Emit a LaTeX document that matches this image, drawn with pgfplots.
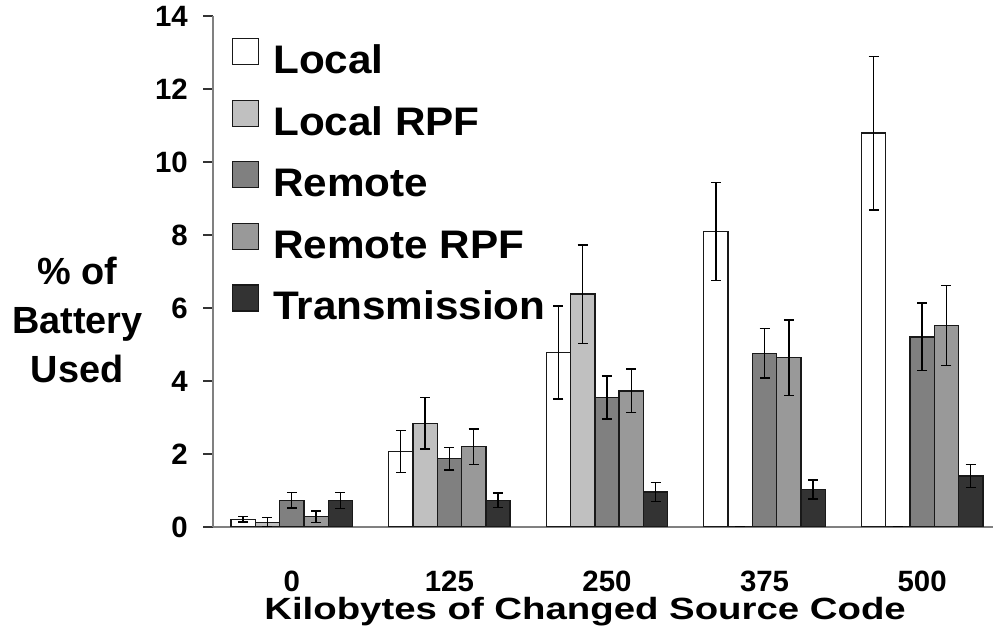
\documentclass[border=0pt]{standalone}
\usepackage{pgfplots}
\pgfplotsset{compat=1.18}
\usepackage{fontspec}
\setmainfont{Liberation Sans}
\usepackage{graphicx}
\definecolor{cLocal}{HTML}{FFFFFF}
\definecolor{cLocalRPF}{HTML}{C0C0C0}
\definecolor{cRemote}{HTML}{808080}
\definecolor{cRemoteRPF}{HTML}{999999}
\definecolor{cTrans}{HTML}{333333}
\definecolor{axgray}{HTML}{808080}
\newcommand{\legtxt}[1]{\scalebox{1.06}[1]{#1}}
\pgfplotsset{
  myerr/.style={
    error bars/y dir=both, error bars/y explicit,
    error bars/error bar style={line width=1.4bp, draw=black},
    error bars/error mark options={rotate=90, mark size=5bp, line width=1.4bp, draw=black}},
}
\begin{document}
\begin{tikzpicture}[x=1bp,y=1bp]
\useasboundingbox (0,0) rectangle (993,629);
\begin{axis}[
  at={(213bp,102bp)}, anchor=south west,
  scale only axis, width=780bp, height=511bp,
  xmin=-0.5, xmax=4.45, ymin=0, ymax=14,
  axis lines*=left,
  axis line style={draw=axgray, line width=2bp},
  tick align=outside,
  major tick length=10bp,
  ytick={0,2,...,14},
  ytick style={draw=black!80, line width=1.3bp},
  xtick={0,1,2,3,4},
  xticklabels={0,125,250,375,500},
  xtick style={draw=none},
  extra x ticks={-0.5,0.5,1.5,2.5,3.5},
  extra x tick labels={},
  extra x tick style={tick style={draw=black, line width=1.2bp}},
  /pgf/number format/assume math mode=true,
  ticklabel style={font=\bfseries\fontsize{29.5}{29.5}\selectfont},
  yticklabel style={anchor=east, inner sep=0pt, xshift=-15bp},
  xticklabel style={anchor=base, inner sep=0pt, yshift=-55bp},
  xlabel={\scalebox{1}[0.8]{Kilobytes of Changed Source Code}},
  xlabel style={font=\bfseries\fontsize{38.5}{40}\selectfont, at={(axis description cs:0.477,0)}, anchor=base, inner sep=0pt, yshift=-93bp},
  ylabel={\% of\\Battery\\Used},
  ylabel style={font=\bfseries\fontsize{38}{49}\selectfont, align=center, rotate=-90, at={(axis description cs:-0.174,0.405)}, anchor=center, inner sep=0pt},
  ybar=0pt, bar width=24.3bp,
  legend style={draw=none, fill=none, inner sep=0pt, outer sep=0pt, row sep=24.5bp, column sep=14bp,
    nodes={inner sep=0pt, anchor=base west}, font=\bfseries\fontsize{40}{40}\selectfont,
    at={(axis description cs:0.0244,0.957)}, anchor=north west},
  legend image code/.code={\draw[#1, line width=1.2bp] (0bp,9bp) rectangle (26bp,35bp);},
]
\addplot[fill=cLocal, draw=black!90, line width=1.4bp, myerr] coordinates {
 (0,0.21) +- (0,0.07)
 (1,2.07) +- (0,0.58)
 (2,4.78) +- (0,1.27)
 (3,8.10) +- (0,1.34)
 (4,10.79) +- (0,2.10)
};
\addplot[fill=cLocalRPF, draw=black!90, line width=1.4bp, myerr] coordinates {
 (0,0.13) +- (0,0.13)
 (1,2.84) +- (0,0.70)
 (2,6.38) +- (0,1.35)
 (3,0) +- (0,0)
 (4,0) +- (0,0)
};
\addplot[fill=cRemote, draw=black!90, line width=1.4bp, myerr] coordinates {
 (0,0.73) +- (0,0.21)
 (1,1.87) +- (0,0.31)
 (2,3.55) +- (0,0.59)
 (3,4.76) +- (0,0.68)
 (4,5.21) +- (0,0.93)
};
\addplot[fill=cRemoteRPF, draw=black!90, line width=1.4bp, myerr] coordinates {
 (0,0.28) +- (0,0.16)
 (1,2.20) +- (0,0.49)
 (2,3.73) +- (0,0.60)
 (3,4.64) +- (0,1.03)
 (4,5.52) +- (0,1.09)
};
\addplot[fill=cTrans, draw=black!90, line width=1.4bp, myerr] coordinates {
 (0,0.73) +- (0,0.22)
 (1,0.73) +- (0,0.20)
 (2,0.96) +- (0,0.26)
 (3,1.03) +- (0,0.26)
 (4,1.40) +- (0,0.31)
};
\legend{\legtxt{Local},\legtxt{Local RPF},\legtxt{Remote},\legtxt{Remote RPF},\legtxt{Transmission}}
\end{axis}
\end{tikzpicture}
\end{document}
